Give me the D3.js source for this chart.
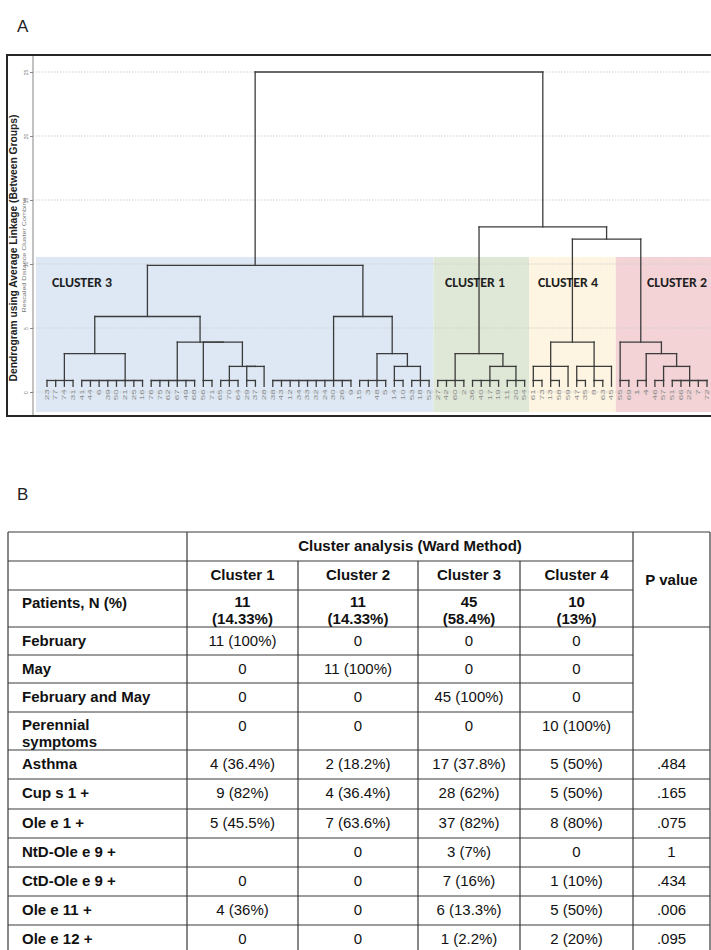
<!DOCTYPE html>
<html>
<head>
<meta charset="utf-8">
<script src="https://cdn.jsdelivr.net/npm/d3@7"></script>
<style>
  html, body { margin: 0; padding: 0; background: #fff; }
  svg { display: block; }
</style>
</head>
<body>
<svg id="fig" width="711" height="950"></svg>
<script>
// ---------------- Panel A: dendrogram data ----------------
// patient ids in leaf order (left to right)
const leafIds = [
  23, 77, 74, 31, 41, 44, 6, 39, 50, 21, 25, 16, 76, 75, 62, 67, 49, 68, 56, 71,
  65, 70, 64, 29, 37, 28, 38, 43, 12, 34, 33, 32, 24, 30, 26, 9, 15, 3, 48, 5,
  14, 10, 53, 18, 52,
  27, 42, 60, 2, 36, 40, 17, 19, 11, 20, 54,
  61, 73, 13, 58, 59, 47, 35, 8, 63, 45,
  55, 69, 1, 4, 46, 57, 51, 66, 22, 7, 72
];
const clusterLabels = ["CLUSTER 3", "CLUSTER 1", "CLUSTER 4", "CLUSTER 2"];
const clusterFirstLeaf = [0, 45, 56, 66];
const clusterLastLeaf = [44, 55, 65, 76];
const distanceTicks = [0, 5, 10, 15, 20, 25];

// merge tree: h = rescaled distance of the join, c = joined members,
// i = leaf position, at = member whose stem carries the join upward
const leaf = i => ({ i });
const comb = (start, n, at) => ({ h: 0.9, at, c: d3.range(start, start + n).map(leaf) });
const mergeTree = { h: 25, c: [
  { h: 9.9, c: [
    { h: 5.9, c: [
      { h: 3.0, c: [comb(0, 4, 2), comb(4, 8, 5)] },
      { h: 3.9, c: [comb(12, 6, 3),
        { h: 3.9, c: [comb(18, 2, 0),
          { h: 2.0, c: [comb(20, 3, 1), { h: 2.0, c: [comb(23, 2, 0), leaf(25)] }] }] }] }
    ] },
    { h: 5.9, c: [comb(26, 10, 7),
      { h: 3.0, c: [comb(36, 4, 2), { h: 2.0, c: [comb(40, 2, 0), comb(42, 3, 1)] }] }] }
  ] },
  { h: 12.9, c: [
    { h: 3.0, c: [comb(45, 4, 2), { h: 2.0, c: [comb(49, 4, 2), comb(53, 3, 1)] }] },
    { h: 11.95, c: [
      { h: 3.9, c: [
        { h: 2.0, c: [comb(56, 2, 0), comb(58, 2, 0), leaf(60)] },
        { h: 2.0, c: [comb(61, 2, 0), comb(63, 2, 0), leaf(65)] }] },
      { h: 3.9, c: [comb(66, 2, 0),
        { h: 3.0, c: [comb(68, 2, 1), { h: 2.0, c: [comb(70, 2, 1), comb(72, 5, 2)] }] }] }
    ] }
  ] }
] };

// ---------------- Panel B: table data ----------------
const headerTitle = "Cluster analysis (Ward Method)";
const clusterCols = ["Cluster 1", "Cluster 2", "Cluster 3", "Cluster 4"];
const pHeader = "P value";
const patientsLabel = "Patients, N (%)";
const patientCounts = ["11", "11", "45", "10"];
const patientShares = ["(14.33%)", "(14.33%)", "(58.4%)", "(13%)"];
const rowLabels = ["February", "May", "February and May", "Perennial symptoms", "Asthma",
  "Cup s 1 +", "Ole e 1 +", "NtD-Ole e 9 +", "CtD-Ole e 9 +", "Ole e 11 +", "Ole e 12 +"];
const cellValues = [
  ["11 (100%)", "0", "0", "0"],
  ["0", "11 (100%)", "0", "0"],
  ["0", "0", "45 (100%)", "0"],
  ["0", "0", "0", "10 (100%)"],
  ["4 (36.4%)", "2 (18.2%)", "17 (37.8%)", "5 (50%)"],
  ["9 (82%)", "4 (36.4%)", "28 (62%)", "5 (50%)"],
  ["5 (45.5%)", "7 (63.6%)", "37 (82%)", "8 (80%)"],
  ["", "0", "3 (7%)", "0"],
  ["0", "0", "7 (16%)", "1 (10%)"],
  ["4 (36%)", "0", "6 (13.3%)", "5 (50%)"],
  ["0", "0", "1 (2.2%)", "2 (20%)"]
];
const pValues = ["", "", "", "", ".484", ".165", ".075", "1", ".434", ".006", ".095"];

// ---------------- drawing ----------------
const svg = d3.select("#fig");
const W = 711;
const sans = "'Liberation Sans', Arial, Helvetica, sans-serif";

// panel letters
svg.append("text").attr("x", 17).attr("y", 32).text("A")
  .attr("font-family", sans).attr("font-size", 17).attr("fill", "#222");
svg.append("text").attr("x", 17).attr("y", 500).text("B")
  .attr("font-family", sans).attr("font-size", 17).attr("fill", "#222");

// dendrogram frame geometry
const frame = { left: 7, top: 55, bottom: 416 };
const axisX = 33;

const x = d3.scaleLinear().domain([0, leafIds.length - 1]).range([47, 707]);
const y = d3.scaleLinear().domain([0, 25]).range([392, 72]);
const step = x(1) - x(0);

const gA = svg.append("g");

// cluster shading
const regionFill = ["#dde8f4", "#dfe8d7", "#fdf5e1", "#f3d3d6"];
const regionTop = y(10.55), regionBottom = frame.bottom - 4;
clusterLabels.forEach((lab, k) => {
  const f = clusterFirstLeaf[k], l = clusterLastLeaf[k];
  const x0 = f === 0 ? axisX + 3 : x(f) - step / 2;
  const x1 = l === leafIds.length - 1 ? W : x(l) + step / 2;
  gA.append("rect").attr("x", x0).attr("y", regionTop)
    .attr("width", x1 - x0).attr("height", regionBottom - regionTop)
    .attr("fill", regionFill[k]);
});

// dotted grid
gA.selectAll("line.grid").data(distanceTicks).join("line").attr("class", "grid")
  .attr("x1", axisX).attr("x2", W)
  .attr("y1", d => y(d)).attr("y2", d => y(d))
  .attr("stroke", "#cfcfcf").attr("stroke-width", 1.2).attr("stroke-dasharray", "1.5,1.5");

// axis line and ticks
gA.append("line").attr("x1", axisX).attr("x2", axisX)
  .attr("y1", frame.top).attr("y2", frame.bottom)
  .attr("stroke", "#9a9a9a").attr("stroke-width", 1.2);
const yAxis = d3.axisLeft(y).tickValues(distanceTicks).tickSize(3).tickPadding(3)
  .tickFormat(d3.format("d"));
const axG = gA.append("g").attr("transform", `translate(${axisX},0)`).call(yAxis);
axG.select(".domain").remove();
axG.selectAll(".tick line").attr("stroke", "#888");
axG.selectAll(".tick text")
  .attr("font-family", sans).attr("font-size", 5).attr("fill", "#777")
  .attr("x", null).attr("dy", null)
  .attr("text-anchor", "middle")
  .attr("transform", "translate(-5,0) rotate(-90)");

// axis titles
gA.append("text")
  .attr("transform", "translate(17,248) rotate(-90)")
  .attr("text-anchor", "middle")
  .attr("font-family", sans).attr("font-weight", "bold").attr("font-size", 10.5)
  .attr("fill", "#222")
  .attr("textLength", 267).attr("lengthAdjust", "spacingAndGlyphs")
  .text("Dendrogram using Average Linkage (Between Groups)");
gA.append("text")
  .attr("transform", "translate(26,255) rotate(-90)")
  .attr("text-anchor", "middle")
  .attr("font-family", sans).attr("font-size", 5).attr("fill", "#777")
  .attr("textLength", 115).attr("lengthAdjust", "spacingAndGlyphs")
  .text("Rescaled Distance Cluster Combine");

// tree layout: leaf positions from the x scale, join heights from the y scale
const leafFoot = 0.45;
const root = d3.hierarchy(mergeTree, d => d.c);
root.eachAfter(n => {
  if (!n.children) {
    n.px = x(n.data.i);
    n.hv = leafFoot;
  } else {
    const ch = n.children;
    n.px = n.data.at != null ? ch[n.data.at].px : (ch[0].px + ch[ch.length - 1].px) / 2;
    n.hv = n.data.h;
  }
});

const segs = [];
root.each(n => {
  if (!n.children) return;
  const xs = n.children.map(c => c.px);
  segs.push([d3.min(xs), y(n.hv), d3.max(xs), y(n.hv)]);
  n.children.forEach(c => segs.push([c.px, y(c.hv), c.px, y(n.hv)]));
});
gA.append("g").selectAll("line").data(segs).join("line")
  .attr("x1", d => d[0]).attr("y1", d => d[1])
  .attr("x2", d => d[2]).attr("y2", d => d[3])
  .attr("stroke", "#3b3b3b").attr("stroke-width", 1.3)
  .attr("stroke-linecap", "square");

// leaf labels
gA.append("g").selectAll("text").data(root.leaves()).join("text")
  .attr("transform", d => `translate(${d.px + 1.8},${y(leafFoot) + 3}) rotate(-90)`)
  .attr("text-anchor", "end")
  .attr("font-family", sans).attr("font-size", 5).attr("fill", "#8a8a8a")
  .attr("textLength", d => String(leafIds[d.data.i]).length > 1 ? 11 : 6)
  .attr("lengthAdjust", "spacingAndGlyphs")
  .text(d => leafIds[d.data.i]);

// cluster names
const labelLeft = [52, 445, 538, 647];
clusterLabels.forEach((lab, k) => {
  gA.append("text").attr("x", labelLeft[k]).attr("y", 287)
    .attr("font-family", "Carlito, 'Open Sans', sans-serif")
    .attr("font-weight", "bold").attr("font-size", 13).attr("fill", "#1f1f1f")
    .attr("textLength", 60).attr("lengthAdjust", "spacingAndGlyphs")
    .text(lab);
});

// frame
gA.append("rect").attr("x", frame.left).attr("y", frame.top)
  .attr("width", 730).attr("height", frame.bottom - frame.top)
  .attr("fill", "none").attr("stroke", "#262626").attr("stroke-width", 2);

// ---------------- table ----------------
const gB = svg.append("g");
const colX = [8, 187, 298, 418, 520, 633, 710];
const rowTop = [532, 561, 590, 627, 655, 683, 712, 750, 779, 809, 838, 867, 896, 925, 954];
const fs = 15;
const lineGap = 16.8;
const lineCol = "#3a3a3a";

function hline(yy, x0, x1) {
  gB.append("line").attr("x1", x0).attr("x2", x1).attr("y1", yy).attr("y2", yy)
    .attr("stroke", lineCol).attr("stroke-width", 1.2);
}
function vline(xx, y0, y1) {
  gB.append("line").attr("x1", xx).attr("x2", xx).attr("y1", y0).attr("y2", y1)
    .attr("stroke", lineCol).attr("stroke-width", 1.2);
}
// one text element; several lines become tspans
function txt(lines, xx, cy, opts = {}) {
  const t = gB.append("text").attr("x", xx).attr("y", cy + fs * 0.36)
    .attr("text-anchor", opts.anchor || "middle")
    .attr("font-family", sans).attr("font-size", fs)
    .attr("font-weight", opts.bold ? "bold" : "normal")
    .attr("fill", "#111");
  if (Array.isArray(lines)) {
    lines.forEach((s, i) => t.append("tspan").attr("x", xx)
      .attr("dy", i === 0 ? 0 : lineGap).text(s));
  } else {
    t.text(lines);
  }
  return t;
}

const yEnd = rowTop[rowTop.length - 1];
// horizontal rules
hline(rowTop[0], colX[0], colX[6]);
hline(rowTop[1], colX[0], colX[5]);
hline(rowTop[2], colX[0], colX[5]);
hline(rowTop[3], colX[0], colX[6]);
[4, 5, 6].forEach(r => hline(rowTop[r], colX[0], colX[5]));
for (let r = 7; r < rowTop.length; r++) hline(rowTop[r], colX[0], colX[6]);
// vertical rules
vline(colX[0], rowTop[0], yEnd);
vline(colX[1], rowTop[0], yEnd);
[2, 3, 4].forEach(c => vline(colX[c], rowTop[1], yEnd));
vline(colX[5], rowTop[0], yEnd);
vline(colX[6], rowTop[0], yEnd);

const colMid = c => (colX[c] + colX[c + 1]) / 2;
const labelX = 22;

// header rows
txt(headerTitle, (colX[1] + colX[5]) / 2, rowTop[0] + 14, { bold: true });
clusterCols.forEach((s, c) => txt(s, colMid(c + 1), rowTop[1] + 14, { bold: true }));
txt(pHeader, colMid(5), (rowTop[0] + rowTop[3]) / 2, { bold: true });

// patients row
txt(patientsLabel, labelX, rowTop[2] + 13, { bold: true, anchor: "start" });
patientCounts.forEach((s, c) => {
  txt([s, patientShares[c]], colMid(c + 1), rowTop[2] + 11.5, { bold: true });
});

// body rows
const wrapWidth = 140;
rowLabels.forEach((lab, r) => {
  const top = rowTop[r + 3];
  const t = txt(lab, labelX, top + 14, { bold: true, anchor: "start" });
  if (t.node().getComputedTextLength() > wrapWidth) {
    t.remove();
    txt(lab.split(" "), labelX, top + 12.5, { bold: true, anchor: "start" });
  }
  cellValues[r].forEach((v, c) => { if (v) txt(v, colMid(c + 1), top + 14); });
  if (pValues[r]) txt(pValues[r], colMid(5), top + 14);
});
</script>
</body>
</html>
